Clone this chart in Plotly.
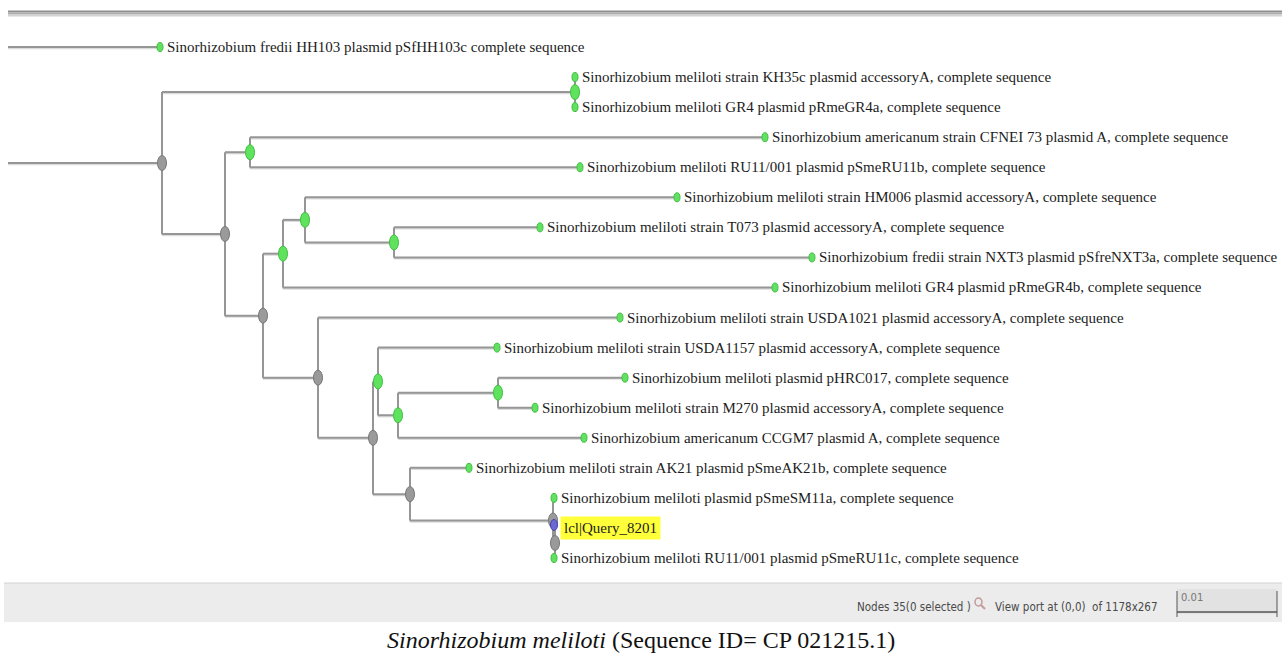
import plotly.graph_objects as go

# ---------------- tree data ----------------
leaf_ids = [f"L{i}" for i in range(18)]
leaf_names = [
    "Sinorhizobium fredii HH103 plasmid pSfHH103c complete sequence",
    "Sinorhizobium meliloti strain KH35c plasmid accessoryA, complete sequence",
    "Sinorhizobium meliloti GR4 plasmid pRmeGR4a, complete sequence",
    "Sinorhizobium americanum strain CFNEI 73 plasmid A, complete sequence",
    "Sinorhizobium meliloti RU11/001 plasmid pSmeRU11b, complete sequence",
    "Sinorhizobium meliloti strain HM006 plasmid accessoryA, complete sequence",
    "Sinorhizobium meliloti strain T073 plasmid accessoryA, complete sequence",
    "Sinorhizobium fredii strain NXT3 plasmid pSfreNXT3a, complete sequence",
    "Sinorhizobium meliloti GR4 plasmid pRmeGR4b, complete sequence",
    "Sinorhizobium meliloti strain USDA1021 plasmid accessoryA, complete sequence",
    "Sinorhizobium meliloti strain USDA1157 plasmid accessoryA, complete sequence",
    "Sinorhizobium meliloti plasmid pHRC017, complete sequence",
    "Sinorhizobium meliloti strain M270 plasmid accessoryA, complete sequence",
    "Sinorhizobium americanum CCGM7 plasmid A, complete sequence",
    "Sinorhizobium meliloti strain AK21 plasmid pSmeAK21b, complete sequence",
    "Sinorhizobium meliloti plasmid pSmeSM11a, complete sequence",
    "lcl|Query_8201",
    "Sinorhizobium meliloti RU11/001 plasmid pSmeRU11c, complete sequence",
]
# cumulative distance from the left edge of the view (substitutions/site)
leaf_depth = [0.0152, 0.0567, 0.0567, 0.0757, 0.0572, 0.0669, 0.0532, 0.0804,
              0.0767, 0.0612, 0.0489, 0.0617, 0.0527, 0.0576, 0.0461, 0.0546,
              0.0546, 0.0546]
query_leaf = "L16"

node_names = ["root", "n1", "nA", "n2", "nB", "nC", "nD", "nF", "nG",
              "nE", "nH", "nI", "nK", "nL", "nJ", "nM", "nN"]
node_depth = [-0.0050, 0.0154, 0.0567, 0.0217, 0.0242, 0.0255, 0.0275, 0.0297,
              0.0386, 0.0310, 0.0365, 0.0370, 0.0390, 0.0490, 0.0402, 0.0545,
              0.0547]
node_children = [
    ["L0", "n1"], ["nA", "n2"], ["L1", "L2"], ["nB", "nC"], ["L3", "L4"],
    ["nD", "nE"], ["nF", "L8"], ["L5", "nG"], ["L6", "L7"], ["L9", "nH"],
    ["nI", "nJ"], ["L10", "nK"], ["nL", "L13"], ["L11", "L12"], ["L14", "nM"],
    ["L15", "nN"], ["L16", "L17"],
]
# green = highlighted node, grey = plain internal node
node_kind = ["grey", "grey", "green", "grey", "green", "grey", "green", "green",
             "green", "grey", "grey", "green", "green", "green", "grey", "query",
             "grey"]

scale_bar = 0.01

# ---------------- layout helpers ----------------
W, H = 1282, 653
LEFT = 8
PX_PER_UNIT = 10000.0
ROW_TOP_PX, ROW_STEP_PX = 47.0, 30.06

def paper_x(px):
    return (px - LEFT) / (W - LEFT)

def paper_y(py):
    return 1 - py / H

# compute positions
xpos = dict(zip(leaf_ids, leaf_depth))
ypos = {lid: float(i) for i, lid in enumerate(leaf_ids)}
xpos.update(dict(zip(node_names, node_depth)))
children = dict(zip(node_names, node_children))

def place(n):
    if n in ypos:
        return ypos[n]
    ys = [place(c) for c in children[n]]
    ypos[n] = (ys[0] + ys[-1]) / 2
    return ypos[n]

place("root")

# branch segments
ex, ey = [], []
for n in node_names:
    cy = [ypos[c] for c in children[n]]
    ex += [xpos[n], xpos[n], None]
    ey += [min(cy), max(cy), None]
    for c in children[n]:
        ex += [xpos[n], xpos[c], None]
        ey += [ypos[c], ypos[c], None]

fig = go.Figure()
# faint shadow under the branches
fig.add_trace(go.Scatter(x=ex, y=[None if v is None else v + 0.04 for v in ey],
                         mode="lines", line=dict(color="#dcdcdc", width=2),
                         hoverinfo="skip", showlegend=False))
fig.add_trace(go.Scatter(x=ex, y=ey, mode="lines",
                         line=dict(color="#969696", width=2),
                         hoverinfo="skip", showlegend=False))

shapes = []
annotations = []

def ellipse(x, y, w, h, fill, edge):
    shapes.append(dict(type="circle", xref="x", yref="y", xsizemode="pixel",
                       ysizemode="pixel", xanchor=x, yanchor=y,
                       x0=-w / 2, x1=w / 2, y0=-h / 2, y1=h / 2,
                       fillcolor=fill, line=dict(color=edge, width=1),
                       layer="above"))

palette = {
    "green": ("#5fe35f", "#3fbf3f"),
    "grey": ("#9a9a9a", "#777777"),
    "query": ("#9a9a9a", "#777777"),
}
for n, kind in zip(node_names, node_kind):
    if n == "root":
        continue
    f, e = palette[kind]
    ellipse(xpos[n], ypos[n], 9, 15, f, e)

for lid in leaf_ids:
    if lid == query_leaf:
        ellipse(xpos[lid], ypos[lid] - 0.1, 7, 11, "#6a6ad2", "#4444aa")
    else:
        ellipse(xpos[lid], ypos[lid], 6, 9, "#62e062", "#40c040")

for lid, name in zip(leaf_ids, leaf_names):
    is_q = lid == query_leaf
    annotations.append(dict(
        x=xpos[lid], y=ypos[lid], xref="x", yref="y", text=name,
        showarrow=False, xanchor="left", yanchor="middle", xshift=6,
        font=dict(family="Liberation Serif, Times New Roman, serif",
                  size=15, color="#1c1c1c"),
        bgcolor="#ffff3a" if is_q else None, borderpad=3 if is_q else 0,
    ))

# top frame bar
for y0, y1, c in [(10.5, 12.5, "#8e8e8e"), (12.5, 14.5, "#ababab"),
                  (14.5, 16.5, "#d2d2d2")]:
    shapes.append(dict(type="rect", xref="paper", yref="paper",
                       x0=paper_x(LEFT), x1=paper_x(W), y0=paper_y(y1),
                       y1=paper_y(y0), fillcolor=c, line=dict(width=0),
                       layer="below"))

# status bar
shapes.append(dict(type="rect", xref="paper", yref="paper", x0=paper_x(4),
                   x1=paper_x(W), y0=paper_y(622), y1=paper_y(583),
                   fillcolor="#ececec", line=dict(width=0), layer="below"))
shapes.append(dict(type="line", xref="paper", yref="paper", x0=paper_x(4),
                   x1=paper_x(W), y0=paper_y(583), y1=paper_y(583),
                   line=dict(color="#d2d2d2", width=1)))

status_font = dict(family="DejaVu Sans Condensed, DejaVu Sans, sans-serif",
                   size=11.5, color="#4a4a4a")
annotations.append(dict(x=paper_x(855), y=paper_y(607), xref="paper",
                        yref="paper", text="Nodes 35(0 selected )",
                        showarrow=False, xanchor="left", yanchor="middle",
                        font=status_font))
annotations.append(dict(x=paper_x(993), y=paper_y(607), xref="paper",
                        yref="paper", text="View port at (0,0)  of 1178x267",
                        showarrow=False, xanchor="left", yanchor="middle",
                        font=status_font))
# magnifier icon
shapes.append(dict(type="circle", xref="paper", yref="paper",
                   x0=paper_x(975), x1=paper_x(982), y0=paper_y(606),
                   y1=paper_y(598), line=dict(color="#c49a9a", width=1.5)))
shapes.append(dict(type="line", xref="paper", yref="paper",
                   x0=paper_x(981), x1=paper_x(985), y0=paper_y(605),
                   y1=paper_y(609), line=dict(color="#c49a9a", width=2)))

# scale bar box
bar_x0 = (1177 - LEFT) / PX_PER_UNIT
bar_x1 = bar_x0 + scale_bar
shapes.append(dict(type="rect", xref="x", yref="paper", x0=bar_x0, x1=bar_x1,
                   y0=paper_y(614), y1=paper_y(589), fillcolor="#e2e2e2",
                   line=dict(width=0), layer="below"))
shapes.append(dict(type="line", xref="x", yref="paper", x0=bar_x0, x1=bar_x1,
                   y0=paper_y(612), y1=paper_y(612),
                   line=dict(color="#555555", width=1.5)))
for bx in (bar_x0, bar_x1):
    shapes.append(dict(type="line", xref="x", yref="paper", x0=bx, x1=bx,
                       y0=paper_y(617), y1=paper_y(591),
                       line=dict(color="#555555", width=1)))
annotations.append(dict(x=bar_x0, y=paper_y(597), xref="x", yref="paper",
                        text=f"{scale_bar:.2f}", showarrow=False,
                        xanchor="left", yanchor="middle", xshift=2,
                        font=dict(family="DejaVu Sans", size=10,
                                  color="#777777")))

# caption
annotations.append(dict(x=paper_x(641), y=paper_y(640), xref="paper",
                        yref="paper",
                        text="<i>Sinorhizobium meliloti</i> (Sequence ID= CP 021215.1)",
                        showarrow=False, xanchor="center", yanchor="middle",
                        font=dict(family="Liberation Serif, Times New Roman, serif",
                                  size=24, color="#111111")))

row_top = -ROW_TOP_PX / ROW_STEP_PX
row_bot = row_top + H / ROW_STEP_PX
fig.update_layout(
    width=W, height=H, margin=dict(l=LEFT, r=0, t=0, b=0),
    paper_bgcolor="white", plot_bgcolor="white",
    xaxis=dict(range=[0, (W - LEFT) / PX_PER_UNIT], visible=False,
               fixedrange=True),
    yaxis=dict(range=[row_bot, row_top], visible=False, fixedrange=True),
    shapes=shapes, annotations=annotations, showlegend=False,
)
fig.write_html("out.html", config={"displayModeBar": False})
